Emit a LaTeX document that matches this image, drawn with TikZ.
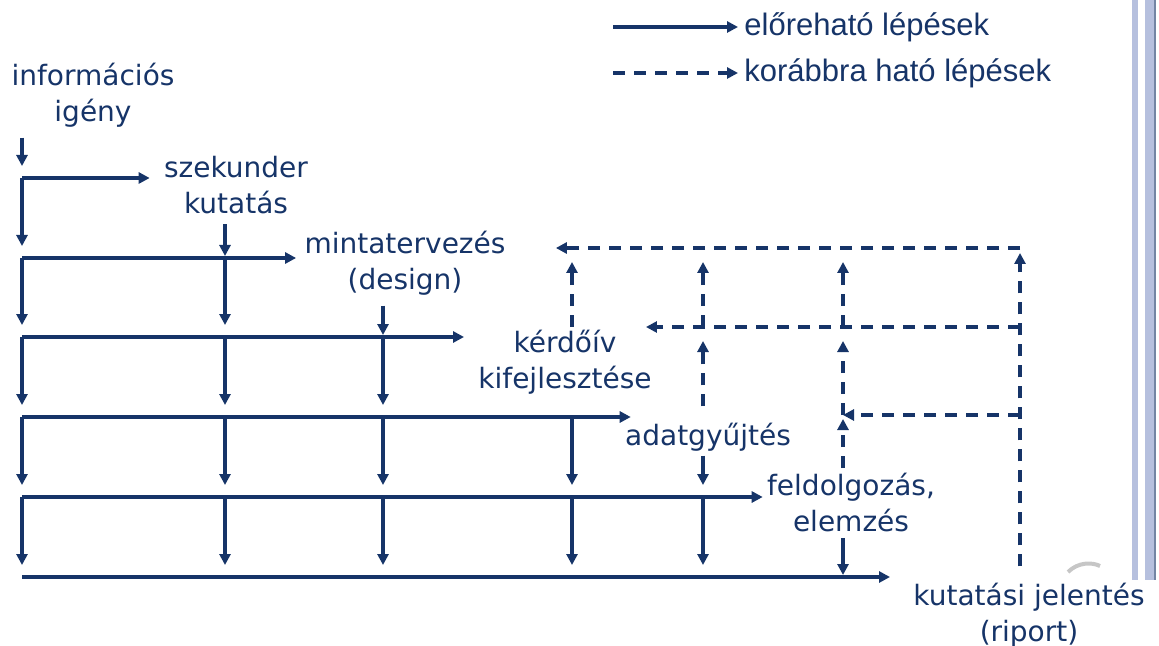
\documentclass[tikz,border=0pt]{standalone}
\usepackage{fontspec}
\setmainfont{DejaVu Sans}
\newfontfamily\legendfont{Liberation Sans}
\usetikzlibrary{arrows.meta}
\definecolor{stepblue}{RGB}{22,52,104}
\definecolor{barblue}{RGB}{182,192,222}
\tikzset{
  lbl/.style={text=stepblue,align=center,inner sep=0pt,font=\fontsize{14}{18}\selectfont},
  legtxt/.style={text=stepblue,anchor=west,inner sep=3pt,font=\legendfont\fontsize{15.5}{18}\selectfont},
  fwd/.style={draw=stepblue,line width=1.8pt,-{Triangle[length=5.5pt,width=5.5pt]}},
  bwd/.style={draw=stepblue,line width=1.6pt,dash pattern=on 6pt off 4.5pt,-{Triangle[length=5.5pt,width=5.5pt]}}
}
\begin{document}
\begin{tikzpicture}[x=0.5pt,y=-0.5pt]
\useasboundingbox (0,0) rectangle (1159,646);
\fill[barblue] (1132,0) rectangle (1138,580);
\fill[barblue] (1145,0) rectangle (1155,580);
\draw[stepblue!60,line width=0.6pt] (1155,0) -- (1155,580);
\draw[gray!45,line width=2pt] (1068,572) .. controls (1078,562) and (1092,562) .. (1100,566);

\node[legtxt] (elore) at (738,27) {előreható lépések};
\node[legtxt] (hatra) at (738,73) {korábbra ható lépések};
\coordinate (l1) at (613,27);
\coordinate (l2) at (613,73);
\draw[fwd] (l1) -- (elore);
\draw[bwd] (l2) -- (hatra);

\node[lbl] (info) at (93,95) {információs\\igény};
\node[lbl] (szek) at (236,185) {szekunder\\kutatás};
\node[lbl] (minta) at (405,263) {mintatervezés\\(design)};
\node[lbl] (kerdo) at (565,362) {kérdőív\\kifejlesztése};
\node[lbl] (adat) at (708,437) {adatgyűjtés};
\node[lbl] (feld) at (851,502) {feldolgozás,\\elemzés};
\node[lbl] (riport) at (1029,615) {kutatási jelentés\\(riport)};

\foreach \n/\x in {c0/22,c1/225,c2/383,c3/572,c4/703,c5/843,c6/1020}
  \coordinate (\n) at (\x,0);
\foreach \n/\y in {1/178,2/258,3/337,4/417,5/497,6/577}
  \coordinate (r\n) at (0,\y);
\foreach \n/\y in {1/248,2/327,3/415}
  \coordinate (b\n) at (0,\y);

\draw[fwd] ([yshift=-5pt]info.south -| c0) -- ([yshift=6pt]c0 |- r1);
\draw[fwd] ([yshift=-5pt]szek.south -| c1) -- ([yshift=1pt]c1 |- r2);
\draw[fwd] ([yshift=-5pt]minta.south -| c2) -- ([yshift=1pt]c2 |- r3);
\draw[fwd] ([yshift=-2pt]adat.south -| c4) -- ([yshift=6pt]c4 |- r5);
\draw[fwd] ([yshift=-3pt]feld.south -| c5) -- ([yshift=1pt]c5 |- r6);

\draw[fwd] (c0 |- r1) -- ([xshift=-7pt]szek.west |- r1);
\draw[fwd] (c0 |- r2) -- ([xshift=-4pt]minta.west |- r2);
\draw[fwd] (c0 |- r3) -- ([xshift=-7pt]kerdo.west |- r3);
\draw[fwd] (c0 |- r4) -- ([xshift=3pt]adat.west |- r4);
\draw[fwd] (c0 |- r5) -- ([xshift=-2pt]feld.west |- r5);
\draw[fwd] (c0 |- r6) -- ([xshift=-11.5pt]riport.west |- r6);

\foreach \c/\s in {c0/1,c1/2,c2/3,c3/4,c4/5}{
  \foreach \k in {\s,...,5}{
    \pgfmathtruncatemacro\nx{\k+1}
    \draw[fwd] (\c |- r\k) -- ([yshift=6pt]\c |- r\nx);
  }
}

\draw[bwd] ([yshift=8pt]riport.north -| c6) -- ([yshift=-2.5pt]c6 |- b1);
\draw[bwd] (c6 |- b1) -- ([xshift=25pt]minta.east |- b1);
\draw[bwd] (c6 |- b2) -- ([xshift=-3pt]kerdo.east |- b2);
\draw[bwd] (c6 |- b3) -- (c5 |- b3);

\draw[bwd] (c3 |- b2) -- ([yshift=-7pt]c3 |- b1);
\draw[bwd] (c4 |- b2) -- ([yshift=-7pt]c4 |- b1);
\draw[bwd] (c5 |- b2) -- ([yshift=-7pt]c5 |- b1);
\draw[bwd] ([yshift=8pt]adat.north -| c4) -- ([yshift=-7pt]c4 |- b2);
\draw[bwd] (c5 |- b3) -- ([yshift=-7pt]c5 |- b2);
\draw[bwd] ([yshift=2pt]feld.north -| c5) -- ([yshift=-2pt]c5 |- b3);
\end{tikzpicture}
\end{document}
